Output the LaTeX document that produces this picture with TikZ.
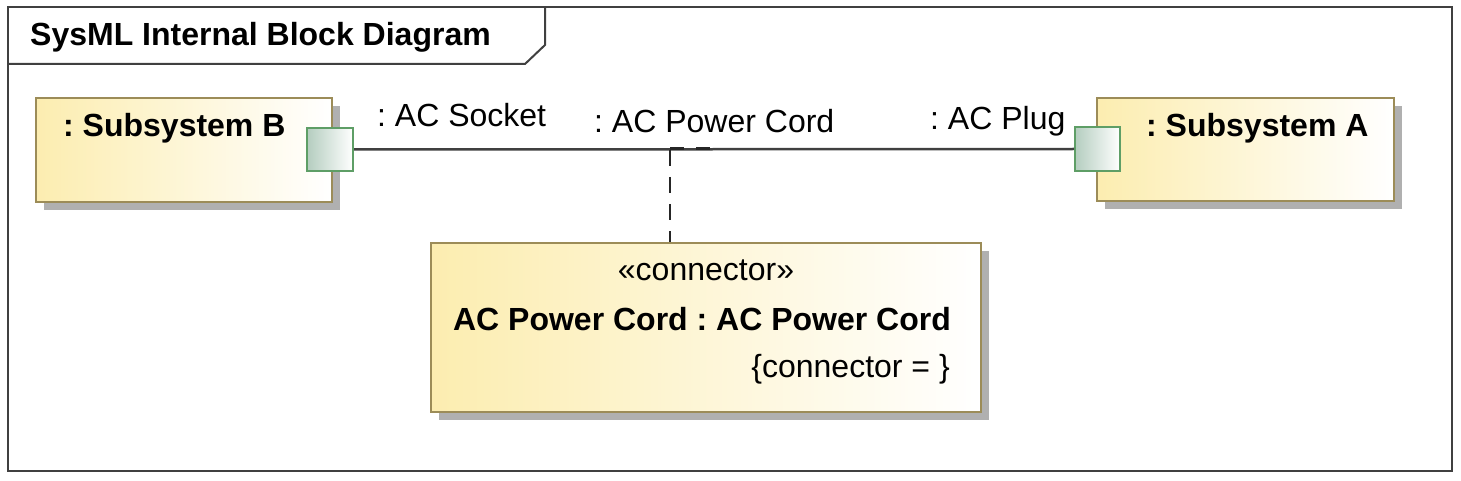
\documentclass[tikz,border=0pt]{standalone}
\usepackage{fontspec}
\setmainfont{Liberation Sans}
\usetikzlibrary{shadows}
\frenchspacing
\definecolor{framegray}{HTML}{404040}
\definecolor{boxyellow}{HTML}{FCEDB0}
\definecolor{boxborder}{HTML}{9C8C58}
\definecolor{portgreen}{HTML}{5E9E66}
\definecolor{portfill}{HTML}{B4CDBF}
\definecolor{shadowgray}{HTML}{B0B0B0}
\tikzset{
  big/.style={font=\fontsize{32}{38}\selectfont, inner sep=0pt},
  bigb/.style={font=\fontsize{32}{38}\selectfont\bfseries, inner sep=0pt},
  partbox/.style={draw=boxborder, line width=2pt,
     left color=boxyellow, right color=white,
     general shadow={fill=shadowgray, shadow xshift=8pt, shadow yshift=-8pt},
     anchor=north west, inner sep=0pt},
  portbox/.style={draw=portgreen, line width=2pt, left color=portfill, right color=white,
     anchor=center, minimum width=46pt, minimum height=43pt, inner sep=0pt},
  wire/.style={draw=framegray, line width=2.5pt},
  dashwire/.style={draw=black!85, line width=2.5pt, dash pattern=on 16pt off 11pt},
}
\begin{document}
\begin{tikzpicture}[x=1pt,y=-1pt]
\useasboundingbox (0,0) rectangle (1461,481);
% frame
\draw[framegray, line width=2pt] (8,7) rectangle (1452,471);
\draw[framegray, line width=2pt] (8,64) -- (525,64) -- (545,45) -- (545,7);
\node[bigb, anchor=base west] (title) at (30,46) {SysML Internal Block Diagram};
% blocks
\node[partbox, minimum width=296pt, minimum height=104pt] (subB) at (35,97) {};
\node[bigb, anchor=base west] (subBt) at (63,137) {: Subsystem B};
\node[partbox, minimum width=297pt, minimum height=103pt] (subA) at (1096,97) {};
\node[bigb, anchor=base west] (subAt) at (1146,137) {: Subsystem A};
\node[partbox, minimum width=550pt, minimum height=169pt] (conn) at (430,242) {};
\node[big, anchor=base] (stereo) at (706,280) {«connector»};
\node[bigb, anchor=base] (cname) at (702,330) {AC Power Cord : AC Power Cord};
\node[big, anchor=base east] (cprop) at (950,377) {\{connector = \}};
% ports
\node[portbox] (portB) at (330,149.5) {};
\node[portbox, minimum width=45pt, minimum height=44pt] (portA) at (1097.5,149) {};
% connector
\draw[wire] (portB.east) -- (portA.west);
\node[big, anchor=base west] (lsock) at (377,127) {: AC Socket};
\node[big, anchor=base west] (lcord) at (594,133) {: AC Power Cord};
\node[big, anchor=base west] (lplug) at (930,130) {: AC Plug};
\coordinate (mid) at (670,150);
\coordinate (midr) at (710,148.5);
\draw[dashwire] (mid) -- (conn.north -| mid);
\draw[dashwire, dash pattern=on 14pt off 12pt] (mid |- midr) -- (midr);
\end{tikzpicture}
\end{document}
